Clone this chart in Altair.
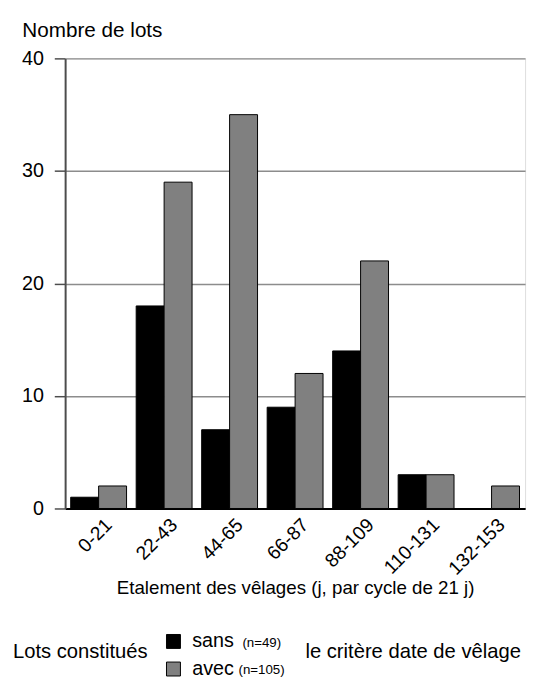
import altair as alt
import pandas as pd

categories = ["0-21", "22-43", "44-65", "66-87", "88-109", "110-131", "132-153"]
sans = [1, 18, 7, 9, 14, 3, 0]
avec = [2, 29, 35, 12, 22, 3, 2]
series = ["sans", "avec"]
colors = ["#000000", "#808080"]
y_ticks = [0, 10, 20, 30, 40]

rows = []
for c, s, a in zip(categories, sans, avec):
    rows.append({"cat": c, "serie": "sans", "val": s})
    rows.append({"cat": c, "serie": "avec", "val": a})
df = pd.DataFrame(rows)

FONT = "Liberation Sans"

bars = alt.Chart(df).transform_filter("datum.val > 0").mark_bar(
    stroke="#000000", strokeWidth=1, clip=False
).encode(
    x=alt.X("cat:N", sort=categories,
            scale=alt.Scale(domain=categories, paddingInner=0.147, paddingOuter=0.085),
            axis=alt.Axis(title="Etalement des vêlages (j, par cycle de 21 j)",
                          labelAngle=-45, labelFontSize=19.5, labelFont=FONT,
                          labelColor="#000000", ticks=False, labelPadding=7,
                          labelOffset=4,
                          domainColor="#000000", domainWidth=2,
                          titleFontSize=19, titleFont=FONT, titleFontWeight="normal",
                          titleColor="#000000", titleBaseline="alphabetic",
                          titleY=86, grid=False)),
    xOffset=alt.XOffset("serie:N", sort=series, scale=alt.Scale(domain=series)),
    y=alt.Y("val:Q", scale=alt.Scale(domain=[0, 40], nice=False),
            axis=alt.Axis(values=y_ticks, title="Nombre de lots", titleAngle=0,
                          titleAlign="left", titleBaseline="alphabetic",
                          titleX=-44, titleY=-22, titleFontSize=21, titleFont=FONT,
                          titleFontWeight="normal", titleColor="#000000",
                          labelFontSize=20, labelFont=FONT, labelColor="#000000",
                          labelPadding=11, tickSize=11, tickColor="#4d4d4d",
                          tickWidth=1.5,
                          domainColor="#4d4d4d", domainWidth=2,
                          grid=True, gridColor="#8c8c8c", gridWidth=1.5)),
    color=alt.Color("serie:N", sort=series,
                    scale=alt.Scale(domain=series, range=colors),
                    legend=alt.Legend(title=None, orient="none", legendX=100, legendY=582,
                                      symbolType="square", symbolSize=200,
                                      symbolStrokeColor="#000000", symbolStrokeWidth=1,
                                      labelFontSize=20, labelFont=FONT, labelColor="#000000",
                                      labelOffset=9, rowPadding=8)),
)

one = pd.DataFrame({"a": [0]})

def label(txt, x, y, size, align="left"):
    return alt.Chart(one).mark_text(text=txt, fontSize=size, font=FONT, color="#000000",
                                    align=align, baseline="alphabetic").encode(
        x=alt.value(x), y=alt.value(y))

texts = [
    label("Lots constitués", -53, 609, 20.5),
    label("(n=49)", 180, 598, 13.5),
    label("(n=105)", 176, 625, 13.5),
    label("le critère date de vêlage", 244, 609, 20.5),
]

chart = alt.layer(bars, *texts).properties(
    width=467, height=457,
    autosize=alt.AutoSizeParams(type="none"),
    padding={"left": 58, "top": 46, "right": 5, "bottom": 170},
).configure_view(stroke=None).configure(background="#ffffff")

chart.save("out.html", embed_options={"renderer": "svg", "actions": False})
